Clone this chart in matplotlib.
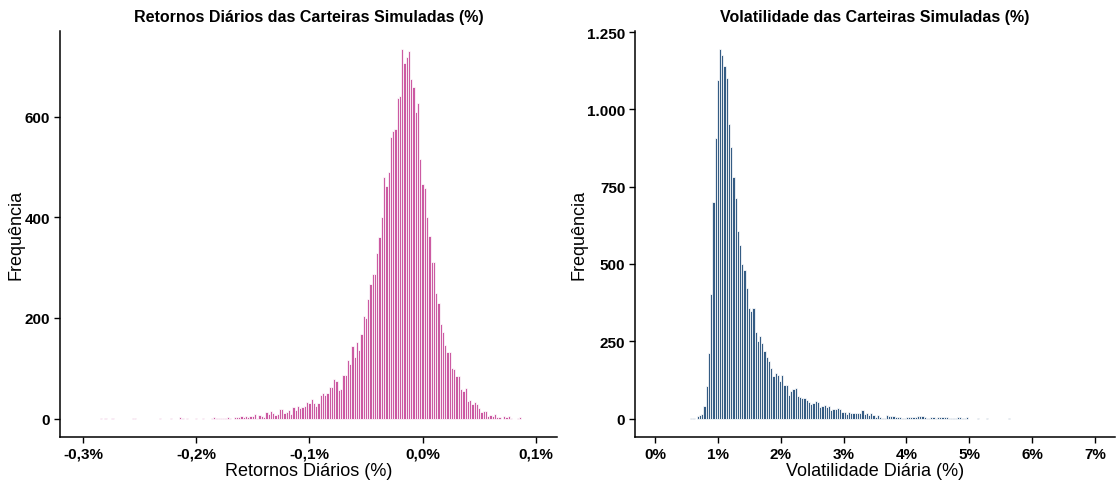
import numpy as np
import matplotlib
matplotlib.use("Agg")
import matplotlib.pyplot as plt
from matplotlib.ticker import FuncFormatter

plt.rcParams["font.family"] = ["Liberation Sans", "DejaVu Sans"]

# --- daily returns histogram (bin counts, binwidth in % units) ---
RET_START = -0.284      # centre of first bin
RET_BINW = 0.002
ret_counts = [
    1, 0, 1, 0, 0, 1, 0, 0, 0, 0, 0, 0, 0, 0, 1, 2, 0, 0, 0, 0,
    0, 0, 0, 0, 0, 0, 2, 0, 0, 0, 0, 1, 0, 0, 0, 3, 1, 0, 2, 0,
    0, 0, 1, 0, 0, 1, 0, 0, 0, 2, 3, 1, 1, 2, 1, 1, 3, 1, 0,
    3, 3, 3, 6, 4, 5, 3, 5, 5, 9, 2, 8, 5, 4, 13, 9, 15, 11, 7, 10,
    18, 18, 11, 13, 16, 9, 22, 17, 24,
    20, 23, 25, 32, 30, 39, 30, 25, 30, 46, 51, 46, 51, 63, 63, 79,
    75, 57, 59, 87, 87, 117, 109, 145, 123, 152, 137, 168, 203, 199, 238,
    267, 287, 287, 329, 361, 400, 481, 462, 490, 559, 571, 576, 638, 642,
    734, 708, 719, 730, 675, 659, 610, 628, 517, 467, 459, 400, 363, 311,
    312, 249, 229, 189, 172, 147, 133, 132,
    100, 98, 85, 85, 59, 54, 61, 35, 37, 28, 33, 29, 20, 14, 15, 15,
    5, 7, 5, 10, 4, 4, 0, 6, 3, 5, 1, 0, 0, 1, 3,
]
ret_ticks = [-0.3, -0.2, -0.1, 0.0, 0.1]
ret_ticklabels = ["-0,3%", "-0,2%", "-0,1%", "0,0%", "0,1%"]
ret_yticks = [0, 200, 400, 600]

# --- daily volatility histogram ---
VOL_START = 0.574
VOL_BINW = 0.0354
vol_counts = [
    1, 1, 0, 9, 12, 16, 42, 104, 213, 404, 701, 906, 1095, 1194, 1176,
    1139, 1101, 954, 878, 783, 714, 606, 562, 500, 479, 422, 358, 349,
    358, 279, 250, 268, 244, 219, 200, 186,
    164, 139, 148, 142, 121, 140, 110, 110, 77, 90, 97, 100, 74, 71, 67,
    67, 60, 55, 48, 49, 56, 54, 36, 42, 45, 38, 40, 28, 32, 30, 33, 30,
    21, 22, 14, 22,
    19, 18, 19, 19, 18, 28, 16, 17, 11, 17, 12, 6, 11, 5, 3, 3, 12, 8,
    8, 8, 6, 4, 4, 3, 3, 4, 5, 5, 6, 5, 7, 8, 7, 5, 3, 1,
    6, 4, 1, 6, 5, 5, 6, 5, 3, 1, 1, 3, 5, 4, 1, 3, 5,
    0, 0, 0, 0, 1, 0, 0, 0, 1, 0, 0, 0, 0, 0, 0, 0, 0, 0, 1,
]
vol_ticks = [0, 1, 2, 3, 4, 5, 6, 7]
vol_ticklabels = ["0%", "1%", "2%", "3%", "4%", "5%", "6%", "7%"]
vol_yticks = [0, 250, 500, 750, 1000, 1250]

PINK = "#cc5aa2"
NAVY = "#355c84"

fig = plt.figure(figsize=(11.17, 4.81), dpi=100)
ax1 = fig.add_axes([60 / 1117, 43 / 481, 497 / 1117, 406 / 481])
ax2 = fig.add_axes([635 / 1117, 43 / 481, 480 / 1117, 406 / 481])


def pt_thousands(v, pos):
    return f"{int(v):,}".replace(",", ".")


def style(ax, title, xlabel):
    for s in ("top", "right"):
        ax.spines[s].set_visible(False)
    for s in ("left", "bottom"):
        ax.spines[s].set_linewidth(1.1)
    ax.tick_params(length=4, width=1.0, labelsize=11, pad=3)
    for lab in ax.get_xticklabels() + ax.get_yticklabels():
        lab.set_fontweight("bold")
    ax.set_title(title, fontsize=11.5, fontweight="bold", pad=7)
    ax.set_xlabel(xlabel, fontsize=13, labelpad=1)
    ax.set_ylabel("Frequência", fontsize=13, labelpad=0)


# left panel
rc = np.array(ret_counts)
rx = RET_START + RET_BINW * np.arange(len(rc))
ax1.bar(rx, rc, width=RET_BINW, color=PINK, edgecolor="white", linewidth=0.55)
ax1.set_xlim(-0.3203, 0.1187)
ax1.set_ylim(-0.05 * rc.max(), 1.05 * rc.max())
ax1.set_xticks(ret_ticks)
ax1.set_xticklabels(ret_ticklabels)
ax1.set_yticks(ret_yticks)
style(ax1, "Retornos Diários das Carteiras Simuladas (%)", "Retornos Diários (%)")

# right panel
vc = np.array(vol_counts)
vx = VOL_START + VOL_BINW * np.arange(len(vc))
ax2.bar(vx, vc, width=VOL_BINW, color=NAVY, edgecolor="white", linewidth=0.55)
ax2.set_xlim(-0.32, 7.32)
ax2.set_ylim(-0.05 * vc.max(), 1.05 * vc.max())
ax2.set_xticks(vol_ticks)
ax2.set_xticklabels(vol_ticklabels)
ax2.set_yticks(vol_yticks)
ax2.yaxis.set_major_formatter(FuncFormatter(pt_thousands))
style(ax2, "Volatilidade das Carteiras Simuladas (%)", "Volatilidade Diária (%)")

fig.savefig("out.png", dpi=100)
